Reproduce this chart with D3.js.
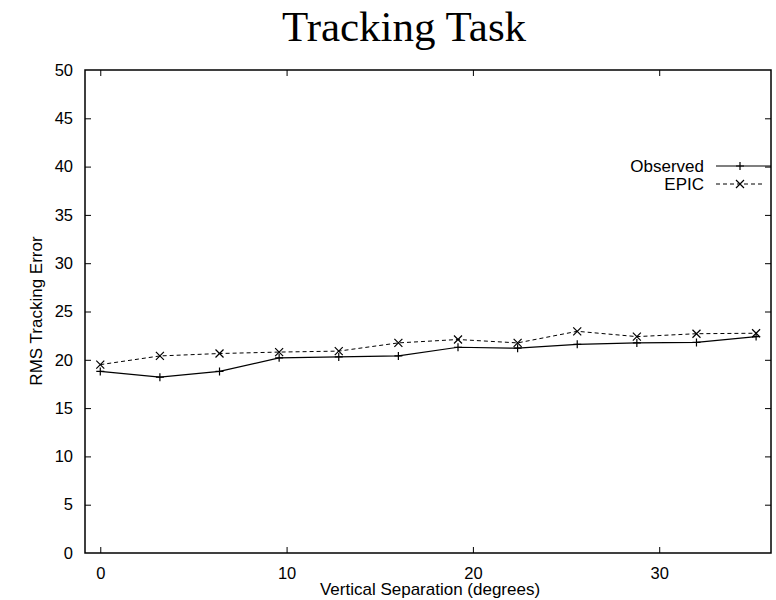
<!DOCTYPE html>
<html><head><meta charset="utf-8">
<script src="https://cdn.jsdelivr.net/npm/d3@7/dist/d3.min.js"></script>
<style>body{margin:0;background:#fff}</style>
</head><body>
<svg id="c" width="776" height="600"></svg>
<script>
const separation = [0, 3.2, 6.4, 9.6, 12.8, 16, 19.2, 22.4, 25.6, 28.8, 32, 35.2];
const observed = [18.8, 18.2, 18.8, 20.2, 20.3, 20.4, 21.3, 21.2, 21.6, 21.75, 21.8, 22.4];
const epic = [19.5, 20.4, 20.65, 20.8, 20.9, 21.75, 22.1, 21.75, 22.95, 22.4, 22.7, 22.75];
const xTicks = [0, 10, 20, 30];
const yTicks = [0, 5, 10, 15, 20, 25, 30, 35, 40, 45, 50];
const seriesNames = ["Observed", "EPIC"];

const svg = d3.select("#c");
const L = 85, R = 771, T = 70, B = 553;
const x = d3.scaleLinear().domain([-0.82, 36]).range([L, R]);
const y = d3.scaleLinear().domain([0, 50]).range([B, T]);
const sans = "'Liberation Sans', Arial, Helvetica, sans-serif";

// title
svg.append("text").attr("x", 404).attr("y", 41).attr("text-anchor", "middle")
  .attr("font-family", "'Liberation Serif', 'Times New Roman', serif").attr("font-size", 43)
  .text("Tracking Task");

// axes with inward ticks
const tk = 6;
const gL = svg.append("g").attr("transform", `translate(${L},0)`)
  .call(d3.axisLeft(y).tickValues(yTicks).tickSizeInner(-tk).tickSizeOuter(0).tickPadding(12));
const gR = svg.append("g").attr("transform", `translate(${R},0)`)
  .call(d3.axisRight(y).tickValues(yTicks.slice(1, -1)).tickSizeInner(-tk).tickSizeOuter(0).tickFormat(""));
const gB = svg.append("g").attr("transform", `translate(0,${B})`)
  .call(d3.axisBottom(x).tickValues(xTicks).tickSizeInner(-tk).tickSizeOuter(0).tickPadding(14));
const gT = svg.append("g").attr("transform", `translate(0,${T})`)
  .call(d3.axisTop(x).tickValues(xTicks).tickSizeInner(-tk).tickSizeOuter(0).tickFormat(""));
[gL, gR, gB, gT].forEach(g => {
  g.select(".domain").remove();
  g.selectAll("line").attr("stroke", "#000").attr("stroke-width", 1);
  g.selectAll("text").attr("font-family", sans).attr("font-size", 16.5).attr("fill", "#000");
});
gL.selectAll(".tick").filter(d => d === 0 || d === 50).select("line").remove();

// frame
svg.append("rect").attr("x", L).attr("y", T).attr("width", R - L).attr("height", B - T)
  .attr("fill", "none").attr("stroke", "#000").attr("stroke-width", 1.5);

// axis titles
svg.append("text").attr("x", 430).attr("y", 595).attr("text-anchor", "middle")
  .attr("font-family", sans).attr("font-size", 17).text("Vertical Separation (degrees)");
svg.append("text").attr("transform", "translate(42,311) rotate(-90)").attr("text-anchor", "middle")
  .attr("font-family", sans).attr("font-size", 17).text("RMS Tracking Error");

const line = d3.line().x(d => x(d[0])).y(d => y(d[1]));
const obsData = separation.map((s, i) => [s, observed[i]]);
const epicData = separation.map((s, i) => [s, epic[i]]);
const m = 4;

function plus(g, px, py) {
  g.append("path").attr("d", `M${px - m},${py}H${px + m}M${px},${py - m}V${py + m}`)
    .attr("stroke", "#000").attr("stroke-width", 1.2).attr("fill", "none");
}
function cross(g, px, py) {
  const c = 4;
  g.append("path").attr("d", `M${px - c},${py - c}L${px + c},${py + c}M${px - c},${py + c}L${px + c},${py - c}`)
    .attr("stroke", "#000").attr("stroke-width", 1.2).attr("fill", "none");
}

const gObs = svg.append("g");
gObs.append("path").datum(obsData).attr("d", line).attr("fill", "none").attr("stroke", "#000").attr("stroke-width", 1.2);
obsData.forEach(d => plus(gObs, x(d[0]), y(d[1])));

const gEpic = svg.append("g");
gEpic.append("path").datum(epicData).attr("d", line).attr("fill", "none").attr("stroke", "#000")
  .attr("stroke-width", 1).attr("stroke-dasharray", "4,3");
epicData.forEach(d => cross(gEpic, x(d[0]), y(d[1])));

// legend
const legY = [166, 184];
seriesNames.forEach((name, i) => {
  svg.append("text").attr("x", 704).attr("y", legY[i] + 6).attr("text-anchor", "end")
    .attr("font-family", sans).attr("font-size", 17).text(name);
  const ln = svg.append("line").attr("x1", 716).attr("x2", i === 0 ? 771 : 765)
    .attr("y1", legY[i]).attr("y2", legY[i]).attr("stroke", "#000").attr("stroke-width", i === 0 ? 1.2 : 1);
  if (i === 1) ln.attr("stroke-dasharray", "4,3");
  if (i === 0) plus(svg, 740, legY[i]); else cross(svg, 740, legY[i]);
});
</script>
</body></html>
